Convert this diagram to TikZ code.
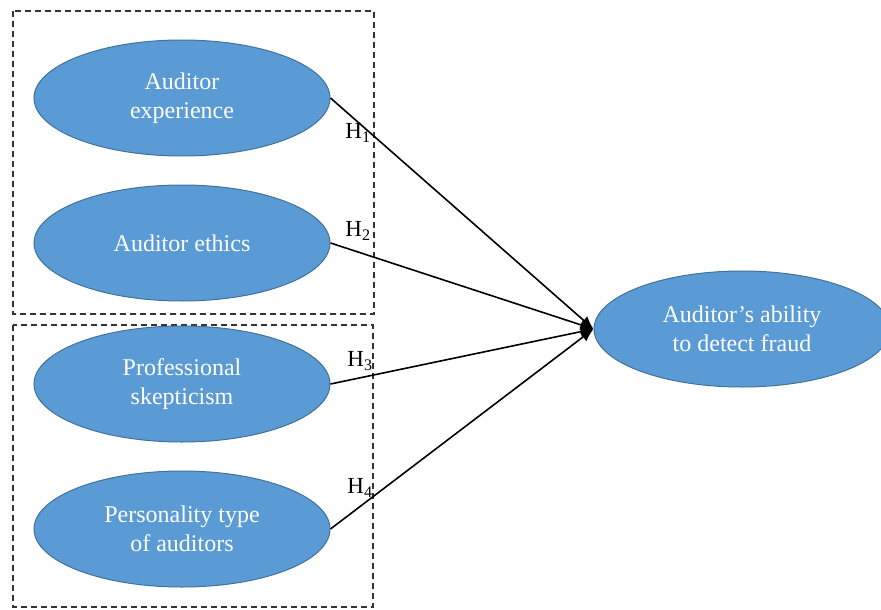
\documentclass[tikz,border=0pt]{standalone}
\usepackage{fontspec}
\setmainfont{Liberation Serif}
\usetikzlibrary{shapes.geometric,arrows.meta}
\definecolor{fillblue}{HTML}{5B9BD5}
\definecolor{edgeblue}{HTML}{41719C}
\tikzset{
  oval/.style={ellipse, draw=edgeblue, line width=1pt, fill=fillblue, minimum width=296pt, minimum height=116pt, inner sep=0pt, text=white, align=center, font=\fontsize{24}{29}\selectfont},
  grpbox/.style={draw=black!80, line width=1.5pt, dash pattern=on 6pt off 4pt},
  link/.style={line width=1.6pt, -{Latex[length=13pt,width=11pt]}},
  hlab/.style={font=\fontsize{23}{26}\selectfont, inner sep=0pt}
}
\begin{document}
\begin{tikzpicture}[x=1pt,y=-1pt]
\useasboundingbox (0,0) rectangle (881,610);
\draw[grpbox] (13,11) rectangle (374,314);
\draw[grpbox] (13,325) rectangle (373,607);
\node[oval] (e1) at (182,98) {Auditor\\experience};
\node[oval] (e2) at (182,243) {Auditor ethics};
\node[oval] (e3) at (182,384) {Professional\\skepticism};
\node[oval] (e4) at (182,529) {Personality type\\of auditors};
\node[oval] (r) at (742,329) {Auditor’s ability\\to detect fraud};
\draw[link] (e1.east) -- (r.west);
\draw[link] (e2.east) -- (r.west);
\draw[link] (e3.east) -- (r.west);
\draw[link] (e4.east) -- (r.west);
\node[hlab] (h1) at (358,133) {H\textsubscript{1}};
\node[hlab] (h2) at (358,231) {H\textsubscript{2}};
\node[hlab] (h3) at (360,361) {H\textsubscript{3}};
\node[hlab] (h4) at (360,488) {H\textsubscript{4}};
\end{tikzpicture}
\end{document}
